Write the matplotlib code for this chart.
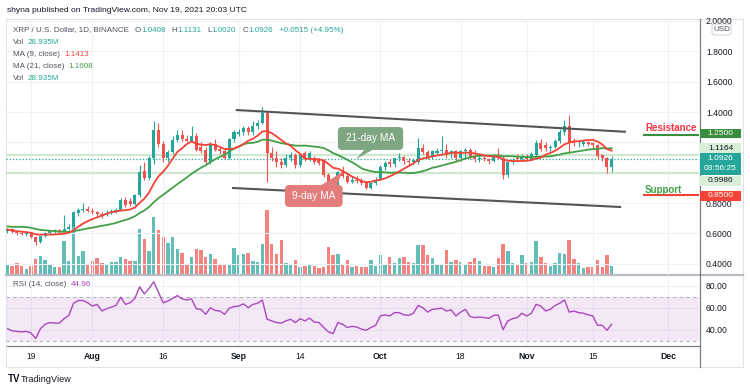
import matplotlib
matplotlib.use('Agg')
import matplotlib.pyplot as plt
from matplotlib.patches import Rectangle, Polygon, FancyBboxPatch
from matplotlib.lines import Line2D
import numpy as np
import pandas as pd

plt.rcParams['font.family'] = ['Liberation Sans', 'DejaVu Sans']

# ---------------- data ----------------
start_date = '2021-07-14'
opens = [
    .615, .628, .610, .600, .596, .602, .578, .540, .580, .603,
    .618, .620, .615, .632, .645, .732, .752, .762, .750, .738,
    .728, .718, .735, .748, .756, .820, .812, .792, .850, 1.010,
    .967, 1.095, 1.280, 1.190, 1.095, 1.135, 1.215, 1.250, 1.225, 1.212,
    1.245, 1.170, 1.150, 1.070, 1.190, 1.155, 1.145, 1.100, 1.220, 1.255,
    1.268, 1.293, 1.265, 1.310, 1.330, 1.392, 1.128, 1.095, 1.073, 1.051,
    1.100, 1.117, 1.050, 1.128, 1.095, 1.095, 1.084, 1.075, 0.985, 0.900,
    0.875, 1.005, 0.975, 0.940, 0.955, 0.948, 0.930, 0.900, 0.935, 0.955,
    1.040, 1.068, 1.058, 1.095, 1.105, 1.080, 1.068, 1.070, 1.160, 1.135,
    1.105, 1.130, 1.140, 1.150, 1.120, 1.140, 1.100, 1.140, 1.150, 1.105,
    1.090, 1.095, 1.088, 1.080, 1.105, 1.095, 0.985, 1.070, 1.098, 1.088,
    1.105, 1.093, 1.115, 1.195, 1.180, 1.160, 1.170, 1.210, 1.270, 1.310,
    1.205, 1.195, 1.190, 1.200, 1.195, 1.185, 1.115, 1.096, 1.0408]
highs = [
    .635, .635, .620, .612, .610, .608, .585, .585, .612, .625,
    .630, .628, .720, .660, .745, .765, .800, .780, .770, .750,
    .740, .755, .760, .770, .830, .840, .830, .860, 1.050, 1.070,
    1.110, 1.340, 1.330, 1.210, 1.150, 1.240, 1.280, 1.280, 1.250, 1.310,
    1.260, 1.200, 1.170, 1.200, 1.220, 1.170, 1.160, 1.230, 1.280, 1.290,
    1.310, 1.310, 1.340, 1.350, 1.430, 1.410, 1.170, 1.140, 1.100, 1.120,
    1.135, 1.130, 1.130, 1.140, 1.140, 1.110, 1.100, 1.090, 1.000, 0.930,
    1.010, 1.045, 0.990, 0.970, 0.975, 0.965, 0.945, 0.945, 0.970, 1.050,
    1.080, 1.090, 1.100, 1.130, 1.110, 1.100, 1.100, 1.230, 1.190, 1.150,
    1.150, 1.160, 1.240, 1.190, 1.150, 1.150, 1.150, 1.160, 1.160, 1.150,
    1.120, 1.110, 1.100, 1.120, 1.160, 1.110, 1.080, 1.100, 1.120, 1.120,
    1.125, 1.135, 1.215, 1.225, 1.200, 1.180, 1.225, 1.290, 1.345, 1.380,
    1.230, 1.215, 1.215, 1.210, 1.205, 1.190, 1.125, 1.105, 1.1131]
lows = [
    .605, .605, .590, .588, .585, .570, .525, .535, .575, .595,
    .605, .600, .610, .620, .640, .715, .740, .740, .725, .715,
    .700, .712, .725, .735, .750, .775, .780, .785, .840, .950,
    .950, 1.060, 1.170, 1.070, 1.070, 1.120, 1.200, 1.210, 1.200, 1.200,
    1.140, 1.130, 1.050, 1.060, 1.140, 1.120, 1.090, 1.090, 1.200, 1.240,
    1.250, 1.250, 1.250, 1.290, 1.320, 0.940, 1.080, 1.040, 1.030, 1.040,
    1.080, 1.030, 1.040, 1.080, 1.080, 1.060, 1.050, 0.970, 0.890, 0.860,
    0.870, 0.965, 0.930, 0.930, 0.930, 0.920, 0.890, 0.890, 0.920, 0.950,
    1.020, 1.040, 1.040, 1.080, 1.060, 1.050, 1.050, 1.060, 1.120, 1.090,
    1.090, 1.120, 1.130, 1.100, 1.100, 1.080, 1.080, 1.100, 1.090, 1.070,
    1.070, 1.080, 1.060, 1.070, 1.090, 0.960, 0.970, 1.060, 1.075, 1.075,
    1.085, 1.085, 1.105, 1.145, 1.145, 1.140, 1.165, 1.195, 1.250, 1.130,
    1.175, 1.170, 1.175, 1.175, 1.165, 1.090, 1.075, 1.000, 1.0020]
closes = [
    .628, .610, .600, .596, .602, .578, .540, .580, .603, .618,
    .620, .615, .632, .645, .732, .752, .762, .750, .738, .728,
    .718, .735, .748, .756, .820, .785, .792, .850, 1.007, .967,
    1.095, 1.280, 1.190, 1.095, 1.135, 1.215, 1.250, 1.225, 1.212, 1.245,
    1.150, 1.140, 1.070, 1.190, 1.150, 1.145, 1.100, 1.220, 1.265, 1.268,
    1.293, 1.265, 1.310, 1.330, 1.392, 1.128, 1.095, 1.073, 1.051, 1.100,
    1.117, 1.050, 1.117, 1.095, 1.128, 1.073, 1.062, 0.985, 0.900, 0.875,
    1.005, 0.975, 0.940, 0.955, 0.948, 0.930, 0.900, 0.935, 0.955, 1.040,
    1.062, 1.058, 1.095, 1.105, 1.080, 1.068, 1.085, 1.160, 1.135, 1.105,
    1.140, 1.145, 1.150, 1.120, 1.140, 1.100, 1.140, 1.150, 1.105, 1.090,
    1.095, 1.088, 1.080, 1.105, 1.095, 0.985, 1.070, 1.084, 1.088, 1.105,
    1.093, 1.120, 1.195, 1.155, 1.160, 1.170, 1.210, 1.270, 1.310, 1.195,
    1.195, 1.195, 1.200, 1.190, 1.185, 1.110, 1.096, 1.0408, 1.0926]
# closes before the visible window (Jun 24 - Jul 13), only for the moving averages
prior_closes = [0.65, 0.60, 0.60, 0.64, 0.67, 0.71, 0.70, 0.66, 0.67, 0.68,
                0.69, 0.65, 0.66, 0.65, 0.62, 0.63, 0.62, 0.63, 0.60, 0.59]
volumes_m = [
    31.0, 28.9, 37.2, 28.9, 18.6, 26.9, 49.6, 57.8, 47.5, 31.0,
    25.8, 25.8, 103.3, 44.4, 192.1, 57.8, 72.3, 31.0, 44.4, 51.7,
    37.2, 33.1, 39.3, 41.3, 54.7, 49.6, 44.4, 44.4, 142.6, 111.6,
    72.3, 178.7, 137.4, 116.7, 99.2, 115.7, 80.6, 68.2, 34.1, 56.8,
    80.6, 75.4, 56.8, 63.0, 49.6, 34.1, 34.1, 34.1, 82.6, 59.9,
    65.1, 67.1, 44.4, 41.3, 94.0, 199.4, 94.0, 65.1, 108.5, 37.2,
    34.1, 47.5, 23.8, 28.9, 31.0, 28.9, 20.7, 23.8, 85.7, 59.9,
    63.0, 34.1, 46.5, 23.8, 26.9, 25.8, 25.8, 46.5, 28.9, 59.9,
    34.1, 54.7, 36.2, 51.7, 56.8, 39.3, 36.2, 90.9, 90.9, 59.9,
    52.7, 31.0, 31.0, 75.4, 39.3, 46.5, 41.3, 33.1, 41.3, 51.7,
    44.4, 28.9, 28.9, 25.8, 52.7, 96.1, 72.3, 36.2, 33.1, 59.9,
    36.2, 41.3, 103.3, 54.7, 37.2, 28.9, 37.2, 67.1, 63.0, 106.4,
    49.6, 37.2, 22.7, 23.8, 25.8, 47.5, 25.8, 62.0, 28.935]
rsi = [
    41, 39, 38.5, 38, 38.5, 37, 32, 41, 45, 46.5,
    46, 46, 50, 53, 64, 66.5, 66.5, 64.5, 61.5, 63,
    57, 59, 60.5, 62, 69.5, 63, 64.5, 68.5, 79, 72.5,
    77.5, 83.5, 74, 64.5, 66, 68.5, 71, 68, 67, 68,
    59, 58.5, 54, 60, 57.5, 57, 54, 59.5, 61, 61.5,
    63.5, 60, 63, 64, 67, 49.5, 48, 46.5, 46, 48,
    49.5, 46.5, 50, 48, 50.5, 47, 46.5, 42, 38, 36.5,
    46.5, 45, 42, 43, 42.5, 40.5, 39.5, 42, 44, 52.5,
    53.5, 52.5, 55.5, 55.5, 53.5, 53, 55, 62, 60, 56,
    58.5, 59, 59.5, 57, 58, 52.5, 56, 58.5, 52, 51,
    51.5, 51, 50.3, 53, 53.2, 40, 48, 50, 51, 55,
    52.5, 55, 63, 61.5, 57, 58.5, 62, 64, 67, 56,
    57, 55.5, 55, 53.5, 52.5, 44, 44, 39.5, 44.96]

# header figures as printed by TradingView
change_abs = 0.0515
change_pct = 4.95
ma9_last = 1.1413
ma21_last = 1.1608

tick_dates = ['2021-07-19', '2021-08-01', '2021-08-16', '2021-09-01', '2021-09-14',
              '2021-10-01', '2021-10-18', '2021-11-01', '2021-11-15', '2021-12-01']
tick_labels = ['19', 'Aug', '16', 'Sep', '14', 'Oct', '18', 'Nov', '15', 'Dec']
month_labels = {'Aug', 'Sep', 'Oct', 'Nov', 'Dec'}

price_ticks = [0.4, 0.6, 0.8, 1.0, 1.2, 1.4, 1.6, 1.8, 2.0]
hidden_price_labels = [1.0, 1.2]   # covered by the price-scale badges
rsi_ticks = [40, 60, 80]

upper_channel_dates = ['2021-08-31 14:00', '2021-11-21 19:00']
upper_channel_prices = [1.413, 1.270]
lower_channel_dates = ['2021-08-30 19:00', '2021-11-20 19:00']
lower_channel_prices = [0.899, 0.774]

resistance_level = 1.25
support_level = 0.85
level_start = '2021-11-25 16:00'
hl_upper = 1.1164
hl_lower = 0.9986

ma21_box = dict(d0='2021-09-22 00:00', d1='2021-10-05 20:00', p0=1.150, p1=1.301)
ma21_ptr_dates = ['2021-09-27 16:00', '2021-09-29 10:00', '2021-09-25 19:00']
ma21_ptr_prices = [1.152, 1.152, 1.088]
ma9_box = dict(d0='2021-09-10 19:00', d1='2021-09-23 00:00', p0=0.774, p1=0.919)
ma9_ptr_dates = ['2021-09-18 10:00', '2021-09-21 19:00', '2021-09-23 00:00']
ma9_ptr_prices = [0.917, 0.917, 1.005]

# ---------------- helpers ----------------
t0 = pd.Timestamp(start_date)
def dpos(d):
    return (pd.Timestamp(d) - t0) / pd.Timedelta('1D')

W, H = 750, 392
def fx(px):
    return px / W
def fy(py):
    return 1 - py / H

UP, DOWN = '#26a69a', '#ef5350'
GRID = '#eef1f6'
TXT = '#131722'
GRAY = '#50535e'

n = len(closes)
x = np.arange(n)
o = np.array(opens); hi = np.array(highs); lo = np.array(lows); c = np.array(closes)
isup = c >= o
cols = np.where(isup, UP, DOWN)

fig = plt.figure(figsize=(7.5, 3.92), dpi=100)
fig.patch.set_facecolor('white')

L, R = 6, 699
PT, PB = 21, 275
RT, RB = 275, 346
xlim = (dpos('2021-07-14') - 0.3, dpos('2021-12-07') + 0.5)

rect_p = [fx(L), fy(PB), fx(R) - fx(L), fy(PT) - fy(PB)]
axv = fig.add_axes(rect_p)
ax = fig.add_axes(rect_p)
axr = fig.add_axes([fx(L), fy(RB), fx(R) - fx(L), fy(RT) - fy(RB)])

# volume pane (behind)
axv.set_zorder(1)
ax.set_zorder(2)
ax.patch.set_alpha(0)
axv.bar(x, volumes_m, width=0.72, color=cols, alpha=0.72, linewidth=0)
axv.set_ylim(0, 780)
axv.set_xlim(*xlim)
axv.axis('off')

# price pane
ax.set_xlim(*xlim)
ax.set_ylim(0.3256, 2.0)
tpos = [dpos(d) for d in tick_dates]
ax.set_xticks(tpos)
ax.set_yticks(price_ticks)
ax.grid(True, color=GRID, lw=0.8)
ax.set_axisbelow(True)
ax.tick_params(axis='x', length=0, labelbottom=False)
ax.yaxis.tick_right()
ax.tick_params(axis='y', length=0, pad=5, labelsize=6.2, labelcolor=TXT)
ax.set_yticklabels(['' if v in hidden_price_labels else f'{v:.4f}' for v in price_ticks])
for s in ['top', 'left', 'bottom', 'right']:
    ax.spines[s].set_visible(False)

ax.axhline(hl_upper, color='#cfe8cf', lw=1.6, zorder=2)
ax.axhline(hl_lower, color='#cfe8cf', lw=1.6, zorder=2)
ax.axhline(closes[-1], color=UP, lw=0.9, ls=(0, (1, 1.6)), zorder=2)

ax.vlines(x, lo, hi, colors=cols, lw=0.8, zorder=3)
ax.bar(x, np.maximum(np.abs(c - o), 0.004), bottom=np.minimum(o, c), width=0.64,
       color=cols, linewidth=0, zorder=4)

allc = pd.Series(prior_closes + closes)
ma9 = allc.rolling(9).mean().values[-n:]
ma21 = allc.rolling(21).mean().values[-n:]
ax.plot(x, ma21, color='#43a047', lw=1.3, zorder=5)
ax.plot(x, ma9, color='#f44336', lw=1.3, zorder=5)

ax.plot([dpos(d) for d in upper_channel_dates], upper_channel_prices, color='#555555', lw=1.5, zorder=6)
ax.plot([dpos(d) for d in lower_channel_dates], lower_channel_prices, color='#555555', lw=1.5, zorder=6)

ax.hlines(resistance_level, dpos(level_start), xlim[1], color='#388e3c', lw=1.5, zorder=6)
ax.hlines(support_level, dpos(level_start), xlim[1], color='#f44336', lw=1.5, zorder=6)
ax.annotate('Resistance', xy=(dpos(level_start) + 0.4, resistance_level), xytext=(0, 1.5),
            textcoords='offset points', ha='left', va='bottom', fontsize=7, fontweight='bold',
            color='#f23645', zorder=7)
ax.annotate('Support', xy=(dpos(level_start) + 0.4, support_level), xytext=(0, 0.5),
            textcoords='offset points', ha='left', va='bottom', fontsize=7, fontweight='bold',
            color='#43a047', zorder=7)

def callout(box, pdates, pprices, color, text):
    x0, x1 = dpos(box['d0']), dpos(box['d1'])
    asp = (1 / 151.7) / (1 / 4.72)
    p = FancyBboxPatch((x0, box['p0']), x1 - x0, box['p1'] - box['p0'],
                       boxstyle='round,pad=0,rounding_size=0.9', mutation_aspect=asp,
                       fc=color, ec='none', zorder=8)
    ax.add_patch(p)
    ax.add_patch(Polygon(list(zip([dpos(d) for d in pdates], pprices)), closed=True,
                         fc=color, ec='none', zorder=8))
    ax.text((x0 + x1) / 2, (box['p0'] + box['p1']) / 2, text, ha='center', va='center',
            fontsize=7.3, color='white', zorder=9)

callout(ma21_box, ma21_ptr_dates, ma21_ptr_prices, '#7fa682', '21-day MA')
callout(ma9_box, ma9_ptr_dates, ma9_ptr_prices, '#e57c7c', '9-day MA')

# RSI pane
axr.set_xlim(*xlim)
axr.set_ylim(25.2, 89.7)
axr.axhspan(30, 70, color='#9c27b0', alpha=0.1, lw=0)
axr.axhline(70, color='#b2b5be', lw=0.8, ls=(0, (3, 3)))
axr.axhline(30, color='#b2b5be', lw=0.8, ls=(0, (3, 3)))
axr.plot(x, rsi, color='#ab47bc', lw=1.0)
axr.set_xticks(tpos)
axr.set_xticklabels(tick_labels)
for lab in axr.get_xticklabels():
    if lab.get_text() in month_labels:
        lab.set_fontweight('bold')
axr.set_yticks(rsi_ticks)
axr.set_yticklabels([f'{v:.2f}' for v in rsi_ticks])
axr.yaxis.tick_right()
axr.grid(True, color=GRID, lw=0.8)
axr.set_axisbelow(True)
axr.tick_params(axis='x', length=0, pad=4, labelsize=6.2, labelcolor=TXT)
axr.tick_params(axis='y', length=0, pad=5, labelsize=6.2, labelcolor=TXT)
for s in ['top', 'left', 'right']:
    axr.spines[s].set_visible(False)
axr.spines['bottom'].set_color('#787b86')
axr.spines['bottom'].set_linewidth(0.9)

# frame, separators, axis line
fig.add_artist(Rectangle((fx(6), fy(367)), fx(743) - fx(6), fy(19) - fy(367), transform=fig.transFigure,
                         fill=False, ec='#e0e3eb', lw=0.8))
fig.add_artist(Line2D([fx(6), fx(743)], [fy(274.6), fy(274.6)], color='#b8bbc3', lw=1.6))
fig.add_artist(Line2D([fx(699.5), fx(699.5)], [fy(19), fy(367)], color='#787b86', lw=0.9))

# right-axis labels
def py_of(p):
    return H - ax.transData.transform((0, p))[1]

def axis_box(center, hgt, bg):
    fig.add_artist(Rectangle((fx(700), fy(center + hgt / 2)), fx(741) - fx(700), hgt / H,
                             transform=fig.transFigure, fc=bg, ec='none', zorder=20))

def axis_txt(yc, s, col):
    fig.text(fx(720.5), fy(yc), s, ha='center', va='center', fontsize=6.0, color=col, zorder=21)

yc = py_of(resistance_level) - 1
axis_box(yc, 9, '#388e3c'); axis_txt(yc, f'{resistance_level:.4f}', 'white')
yc = py_of(hl_upper) - 7
axis_box(yc, 9.5, '#d9eed9'); axis_txt(yc, f'{hl_upper:.4f}', TXT)
yc = py_of(closes[-1])
axis_box(yc + 5.4, 21.5, UP); axis_txt(yc + 0.3, f'{closes[-1]:.4f}', 'white'); axis_txt(yc + 10.3, '03:56:25', 'white')
yc = py_of(hl_lower) + 8
axis_box(yc, 9.5, '#d9eed9'); axis_txt(yc, f'{hl_lower:.4f}', TXT)
yc = py_of(support_level) + 0.5
axis_box(yc, 9.5, '#f44336'); axis_txt(yc, f'{support_level:.4f}', 'white')

# USD badge
fig.add_artist(FancyBboxPatch((fx(712), fy(35)), fx(731) - fx(712), 11 / H, transform=fig.transFigure,
                              boxstyle='round,pad=0,rounding_size=0.004', fc='white', ec='#c5c8d0', lw=0.6, zorder=22))
fig.text(fx(721.5), fy(29.5), 'USD', ha='center', va='center', fontsize=5.8, color=GRAY, zorder=23)

# texts
fig.text(fx(7), fy(10), 'shyna published on TradingView.com, Nov 19, 2021 20:03 UTC',
         fontsize=6.1, color=TXT, va='center', ha='left')

renderer = fig.canvas.get_renderer()
def seq(y_px, pieces, x0=13, size=5.8):
    xp = x0
    for txt, col, gap in pieces:
        xp += gap
        t = fig.text(fx(xp), fy(y_px), txt, fontsize=size, color=col, va='center', ha='left', zorder=30)
        xp += t.get_window_extent(renderer).width

LBL = '#50535e'
seq(30, [('XRP / U.S. Dollar, 1D, BINANCE', LBL, 0), ('O', LBL, 6), (f'{opens[-1]:.4f}', UP, 0),
         ('H', LBL, 6), (f'{highs[-1]:.4f}', UP, 0), ('L', LBL, 6), (f'{lows[-1]:.4f}', UP, 0),
         ('C', LBL, 6), (f'{closes[-1]:.4f}', UP, 0),
         (f'+{change_abs:.4f} (+{change_pct:.2f}%)', UP, 6)])
seq(42.5, [('Vol', LBL, 0), (f'{volumes_m[-1]:.3f}M', UP, 3)])
seq(54.5, [('MA (9, close)', LBL, 0), (f'{ma9_last:.4f}', '#f44336', 4)])
seq(66.5, [('MA (21, close)', LBL, 0), (f'{ma21_last:.4f}', '#43a047', 4)])
seq(78.5, [('Vol', LBL, 0), (f'{volumes_m[-1]:.3f}M', UP, 3)])
seq(285, [('RSI (14, close)', LBL, 0), (f'{rsi[-1]:.2f}', '#ab47bc', 4)])

fig.text(fx(8), fy(379), 'TV', fontsize=7, fontweight='bold', color=TXT, va='center', ha='left')
fig.text(fx(21), fy(379), 'TradingView', fontsize=6.6, color=TXT, va='center', ha='left')

fig.savefig('out.png', dpi=100, facecolor='white')
